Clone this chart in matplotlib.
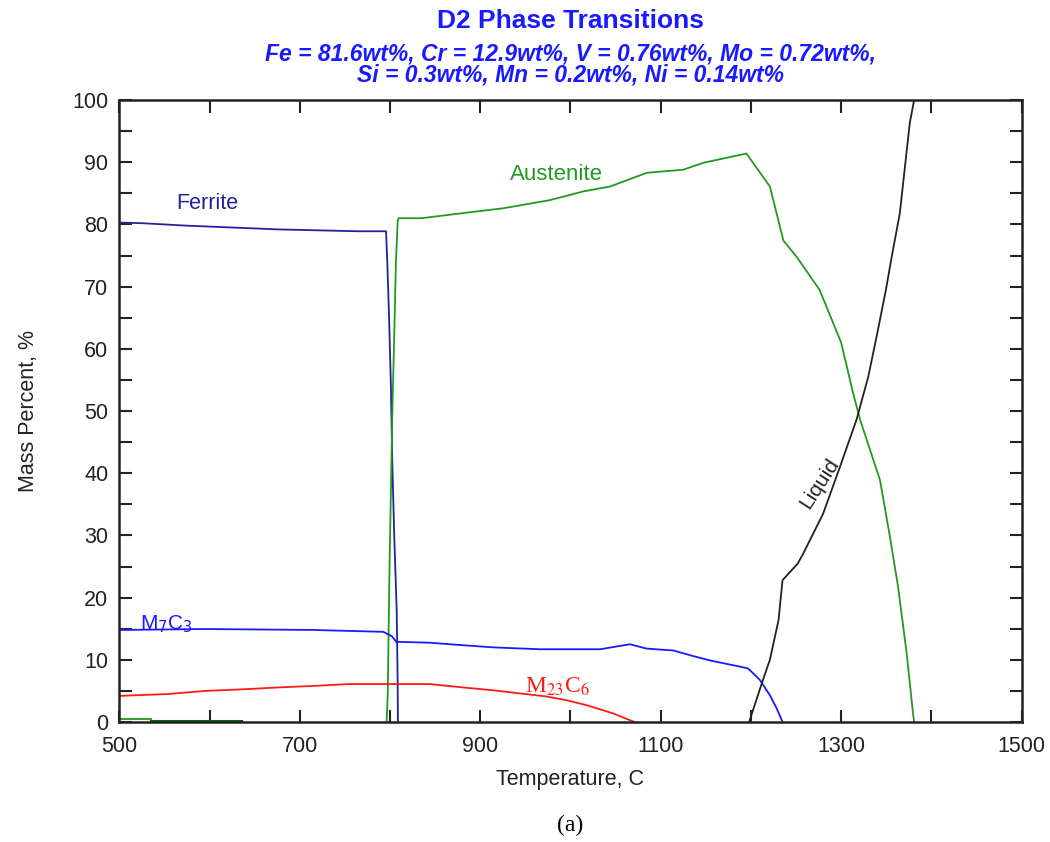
import matplotlib
matplotlib.use("Agg")
import matplotlib.pyplot as plt
from matplotlib.ticker import MultipleLocator, FixedLocator

plt.rcParams['font.family'] = ['Liberation Sans', 'DejaVu Sans']

ferrite_t = [500, 525, 575, 626, 676, 765, 795.6, 797, 799, 801, 802.5, 804.7, 807.4, 808.5, 808.8]
ferrite_p = [80.3, 80.2, 79.8, 79.5, 79.2, 78.9, 78.9, 74, 65, 54, 42, 30, 18, 6.5, 0]

aust_t = [796.3, 797.5, 799.5, 801, 802.5, 804.5, 806.5, 808.5, 809.5, 835, 874, 925.6, 977,
          1014, 1044, 1084.5, 1125, 1147, 1195, 1221, 1236, 1250.6, 1276, 1300, 1313, 1321,
          1343, 1354, 1363, 1372.6, 1380, 1381]
aust_p = [0, 4.5, 25, 37, 49, 61, 73.5, 80.5, 81.0, 81.0, 81.7, 82.6, 83.9,
          85.3, 86.1, 88.3, 88.8, 89.9, 91.4, 86.1, 77.4, 74.8, 69.5, 61, 53, 48.6,
          38.9, 29.8, 21.8, 11.0, 0.85, 0]

aust_low_t = [500, 535]
aust_low_p = [0.5, 0.5]
dark_t = [535, 634.5]
dark_p = [0.15, 0.15]

m7c3_t = [500, 595, 715, 792.6, 802, 807, 844, 875.7, 914.5, 966, 1033, 1066, 1084.5, 1114,
          1136, 1154.6, 1188, 1197, 1210, 1221, 1228.5, 1235]
m7c3_p = [14.8, 14.95, 14.8, 14.5, 13.8, 12.9, 12.75, 12.4, 12.0, 11.7, 11.7, 12.5, 11.8, 11.5,
          10.6, 9.9, 8.9, 8.6, 6.75, 4.3, 2.2, 0]

m23c6_t = [500, 554, 595, 635.6, 682, 715, 754, 822, 844, 885, 914.5, 944, 973.6, 995.8,
           1018, 1047, 1071]
m23c6_p = [4.2, 4.5, 5.0, 5.25, 5.6, 5.8, 6.1, 6.1, 6.1, 5.5, 5.1, 4.6, 4.1, 3.5,
           2.7, 1.4, 0]

liquid_t = [1198, 1212, 1221, 1230.6, 1235, 1252, 1258, 1280, 1298.6, 1317, 1330, 1340,
            1349.6, 1356, 1365, 1370.7, 1376, 1381]
liquid_p = [0, 6.2, 10, 16.4, 22.8, 25.5, 27.1, 33.5, 41.0, 48.6, 55.5, 62.5,
            69.5, 74.8, 81.8, 89.3, 96.3, 100.1]

x_ticks = [500, 700, 900, 1100, 1300, 1500]

fig = plt.figure(figsize=(10.5, 8.42), dpi=100)
ax = fig.add_axes([0.1136, 0.1425, 0.8594, 0.7387])

lw = 1.3
ax.plot(ferrite_t, ferrite_p, color='#22229a', lw=lw)
ax.plot(aust_t, aust_p, color='#229922', lw=lw)
ax.plot(aust_low_t, aust_low_p, color='#229922', lw=lw)
ax.plot(dark_t, dark_p, color='#006400', lw=2.2)
ax.plot(m7c3_t, m7c3_p, color='#1a1aff', lw=lw)
ax.plot(m23c6_t, m23c6_p, color='#ff1a1a', lw=lw)
ax.plot(liquid_t, liquid_p, color='#222222', lw=lw)

ax.set_xlim(500, 1500)
ax.set_ylim(0, 100)
ax.xaxis.set_major_locator(FixedLocator(x_ticks))
ax.xaxis.set_minor_locator(MultipleLocator(100))
ax.yaxis.set_major_locator(MultipleLocator(10))
ax.yaxis.set_minor_locator(MultipleLocator(5))
ax.tick_params(which='both', direction='in', top=True, right=True, length=9, width=1.5,
               color='#222222')
ax.tick_params(which='major', labelsize=15.5, labelcolor='#222222')
ax.tick_params(axis='x', which='major', pad=10)
ax.tick_params(axis='y', which='major', pad=8)
for s in ax.spines.values():
    s.set_linewidth(1.8)
    s.set_color('#222222')

ax.set_xlabel('Temperature, C', fontsize=15.5, color='#222222', labelpad=9)
ax.set_ylabel('Mass Percent, %', fontsize=15.5, color='#222222', labelpad=24)

# phase labels
ax.text(598, 83.3, 'Ferrite', color='#22229a', fontsize=15.5, ha='center', va='center')
ax.text(984, 88.1, 'Austenite', color='#229922', fontsize=16, ha='center', va='center')
ax.text(523, 15.8, 'M$_7$C$_3$', color='#1a1aff', fontsize=15, ha='left', va='center')
ax.text(985, 5.6, r'M$_{23}$C$_6$', color='#ff1a1a', fontsize=17, ha='center', va='center',
        family=['Liberation Serif', 'DejaVu Serif'], math_fontfamily='stix')
ax.text(1276.5, 38.3, 'Liquid', color='#222222', fontsize=15, ha='center', va='center',
        rotation=57)

fig.text(0.543, 0.975, 'D2 Phase Transitions', color='#1a1aff', fontsize=19,
         fontweight='bold', ha='center', va='center')
fig.text(0.543, 0.923, 'Fe = 81.6wt%, Cr = 12.9wt%, V = 0.76wt%, Mo = 0.72wt%,\n'
         'Si = 0.3wt%, Mn = 0.2wt%, Ni = 0.14wt%', color='#1a1aff', fontsize=16.5,
         fontweight='bold', fontstyle='italic', ha='center', va='center', linespacing=0.88)
fig.text(0.543, 0.02, '(a)', fontsize=17, ha='center', va='center',
         family=['Liberation Serif', 'DejaVu Serif'])

fig.savefig('out.png', dpi=100, facecolor='white')
